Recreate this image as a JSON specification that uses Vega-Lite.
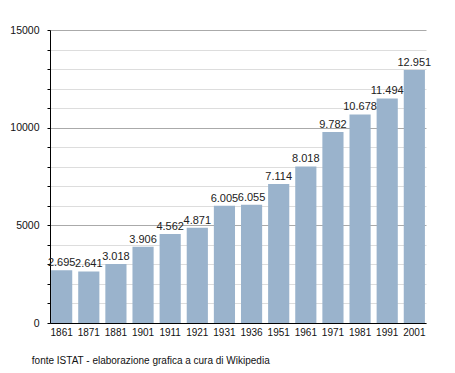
{
  "$schema": "https://vega.github.io/schema/vega-lite/v6.json",
  "width": 376,
  "height": 293,
  "autosize": {"type": "none"},
  "padding": {"left": 50, "top": 30, "right": 29, "bottom": 50},
  "config": {
    "locale": {"number": {"decimal": ",", "thousands": ".", "grouping": [3], "currency": ["", " €"]}},
    "view": {"stroke": null},
    "font": "Liberation Sans"
  },
  "data": {"values": [
    {"anno": "1861", "abitanti": 2695},
    {"anno": "1871", "abitanti": 2641},
    {"anno": "1881", "abitanti": 3018},
    {"anno": "1901", "abitanti": 3906},
    {"anno": "1911", "abitanti": 4562},
    {"anno": "1921", "abitanti": 4871},
    {"anno": "1931", "abitanti": 6005},
    {"anno": "1936", "abitanti": 6055},
    {"anno": "1951", "abitanti": 7114},
    {"anno": "1961", "abitanti": 8018},
    {"anno": "1971", "abitanti": 9782},
    {"anno": "1981", "abitanti": 10678},
    {"anno": "1991", "abitanti": 11494},
    {"anno": "2001", "abitanti": 12951}
  ]},
  "title": {
    "text": "fonte ISTAT - elaborazione grafica a cura di Wikipedia",
    "orient": "bottom",
    "anchor": "start",
    "fontSize": 10,
    "fontWeight": "normal",
    "color": "#111",
    "offset": 19,
    "dx": 22
  },
  "encoding": {
    "x": {
      "field": "anno", "type": "ordinal", "sort": null,
      "scale": {"paddingInner": 0.22, "paddingOuter": 0.04},
      "axis": {"title": null, "labelAngle": 0, "ticks": false, "labelPadding": 4, "labelFontSize": 10, "labelColor": "#111", "domainColor": "#000", "domainWidth": 1}
    },
    "y": {
      "field": "abitanti", "type": "quantitative",
      "scale": {"domain": [0, 15000], "nice": false},
      "axis": {
        "title": null,
        "values": [0,1000,2000,3000,4000,5000,6000,7000,8000,9000,10000,11000,12000,13000,14000,15000],
        "format": "d",
        "labelExpr": "datum.value % 5000 === 0 ? datum.label : ''",
        "labelFontSize": 10.5,
        "labelColor": "#111",
        "labelPadding": 8,
        "tickSize": 3,
        "tickColor": "#000",
        "domainColor": "#000",
        "gridColor": {"condition": {"test": "datum.value % 5000 === 0", "value": "#aaaaaa"}, "value": "#dddddd"},
        "grid": true
      }
    }
  },
  "layer": [
    {"mark": {"type": "bar", "color": "#9ab3cc"}},
    {
      "mark": {"type": "text", "baseline": "bottom", "dy": -2, "fontSize": 11, "color": "#222"},
      "encoding": {"text": {"field": "abitanti", "type": "quantitative", "format": ",d"}}
    }
  ]
}
